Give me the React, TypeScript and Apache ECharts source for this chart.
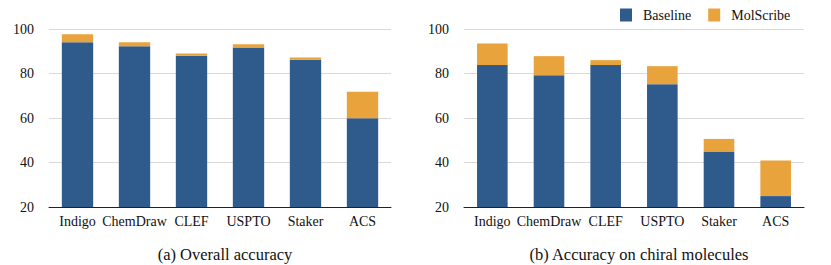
import React, { useEffect, useRef } from "react";
import * as echarts from "echarts";

const categories = ["Indigo", "ChemDraw", "CLEF", "USPTO", "Staker", "ACS"];
const overallBaseline = [94.1, 92.3, 88.0, 91.7, 86.2, 59.9];
const overallMolScribe = [97.6, 94.1, 89.0, 93.1, 87.2, 71.8];
const chiralBaseline = [83.8, 79.2, 83.8, 75.2, 44.9, 24.9];
const chiralMolScribe = [93.5, 87.8, 86.0, 83.3, 50.6, 40.9];
const titles = ["(a) Overall accuracy", "(b) Accuracy on chiral molecules"];

const BLUE = "#2f5a8c";
const ORANGE = "#e8a33d";
const FONT = "Liberation Serif";

const diff = (a: number[], b: number[]) => b.map((v, i) => +(v - a[i]).toFixed(2));

export default function App() {
  const ref = useRef<HTMLDivElement>(null);
  useEffect(() => {
    if (!ref.current) return;
    const chart = echarts.init(ref.current, undefined, { renderer: "svg" });
    const grids = [
      { left: 49, right: 440, top: 29, bottom: 58 },
      { left: 464, right: 27, top: 29, bottom: 58 },
    ];
    const xAxis = grids.map((_, i) => ({
      type: "category",
      gridIndex: i,
      data: categories,
      axisTick: { show: false },
      axisLine: { lineStyle: { color: "#222", width: 1 } },
      axisLabel: { color: "#111", fontFamily: FONT, fontSize: 14, margin: 7, interval: 0 },
    }));
    const yAxis = grids.map((_, i) => ({
      type: "value",
      gridIndex: i,
      min: 20,
      max: 100,
      interval: 20,
      axisLine: { show: false },
      axisTick: { show: false },
      axisLabel: { color: "#111", fontFamily: FONT, fontSize: 14, margin: 15 },
      splitLine: { lineStyle: { color: "#d9d9d9", width: 1 } },
    }));
    const mk = (idx: number, base: number[], tot: number[], bw: string) => [
      {
        name: "Baseline",
        type: "bar",
        stack: "s" + idx,
        xAxisIndex: idx,
        yAxisIndex: idx,
        data: base,
        barWidth: bw,
        itemStyle: { color: BLUE },
      },
      {
        name: "MolScribe",
        type: "bar",
        stack: "s" + idx,
        xAxisIndex: idx,
        yAxisIndex: idx,
        data: diff(base, tot),
        barWidth: bw,
        itemStyle: { color: ORANGE },
      },
    ];
    chart.setOption({
      animation: false,
      textStyle: { fontFamily: FONT },
      grid: grids,
      xAxis,
      yAxis,
      legend: {
        data: ["Baseline", "MolScribe"],
        left: 620,
        top: 8,
        padding: 0,
        itemWidth: 12,
        itemHeight: 13,
        itemGap: 17,
        icon: "rect",
        textStyle: { fontFamily: FONT, fontSize: 14, color: "#111", padding: [0, 0, 0, 6] },
      },
      title: [
        {
          text: titles[0],
          left: 220,
          top: 241,
          textAlign: "center",
          textStyle: { fontFamily: FONT, fontSize: 16.5, fontWeight: "normal", color: "#111" },
        },
        {
          text: titles[1],
          left: 634,
          top: 241,
          textAlign: "center",
          textStyle: { fontFamily: FONT, fontSize: 16.5, fontWeight: "normal", color: "#111" },
        },
      ],
      series: [
        ...mk(0, overallBaseline, overallMolScribe, "55%"),
        ...mk(1, chiralBaseline, chiralMolScribe, "54%"),
      ],
    });
    return () => chart.dispose();
  }, []);
  return (
    <div
      ref={ref}
      style={{ position: "absolute", left: 0, top: 0, width: 831, height: 265 }}
    />
  );
}
